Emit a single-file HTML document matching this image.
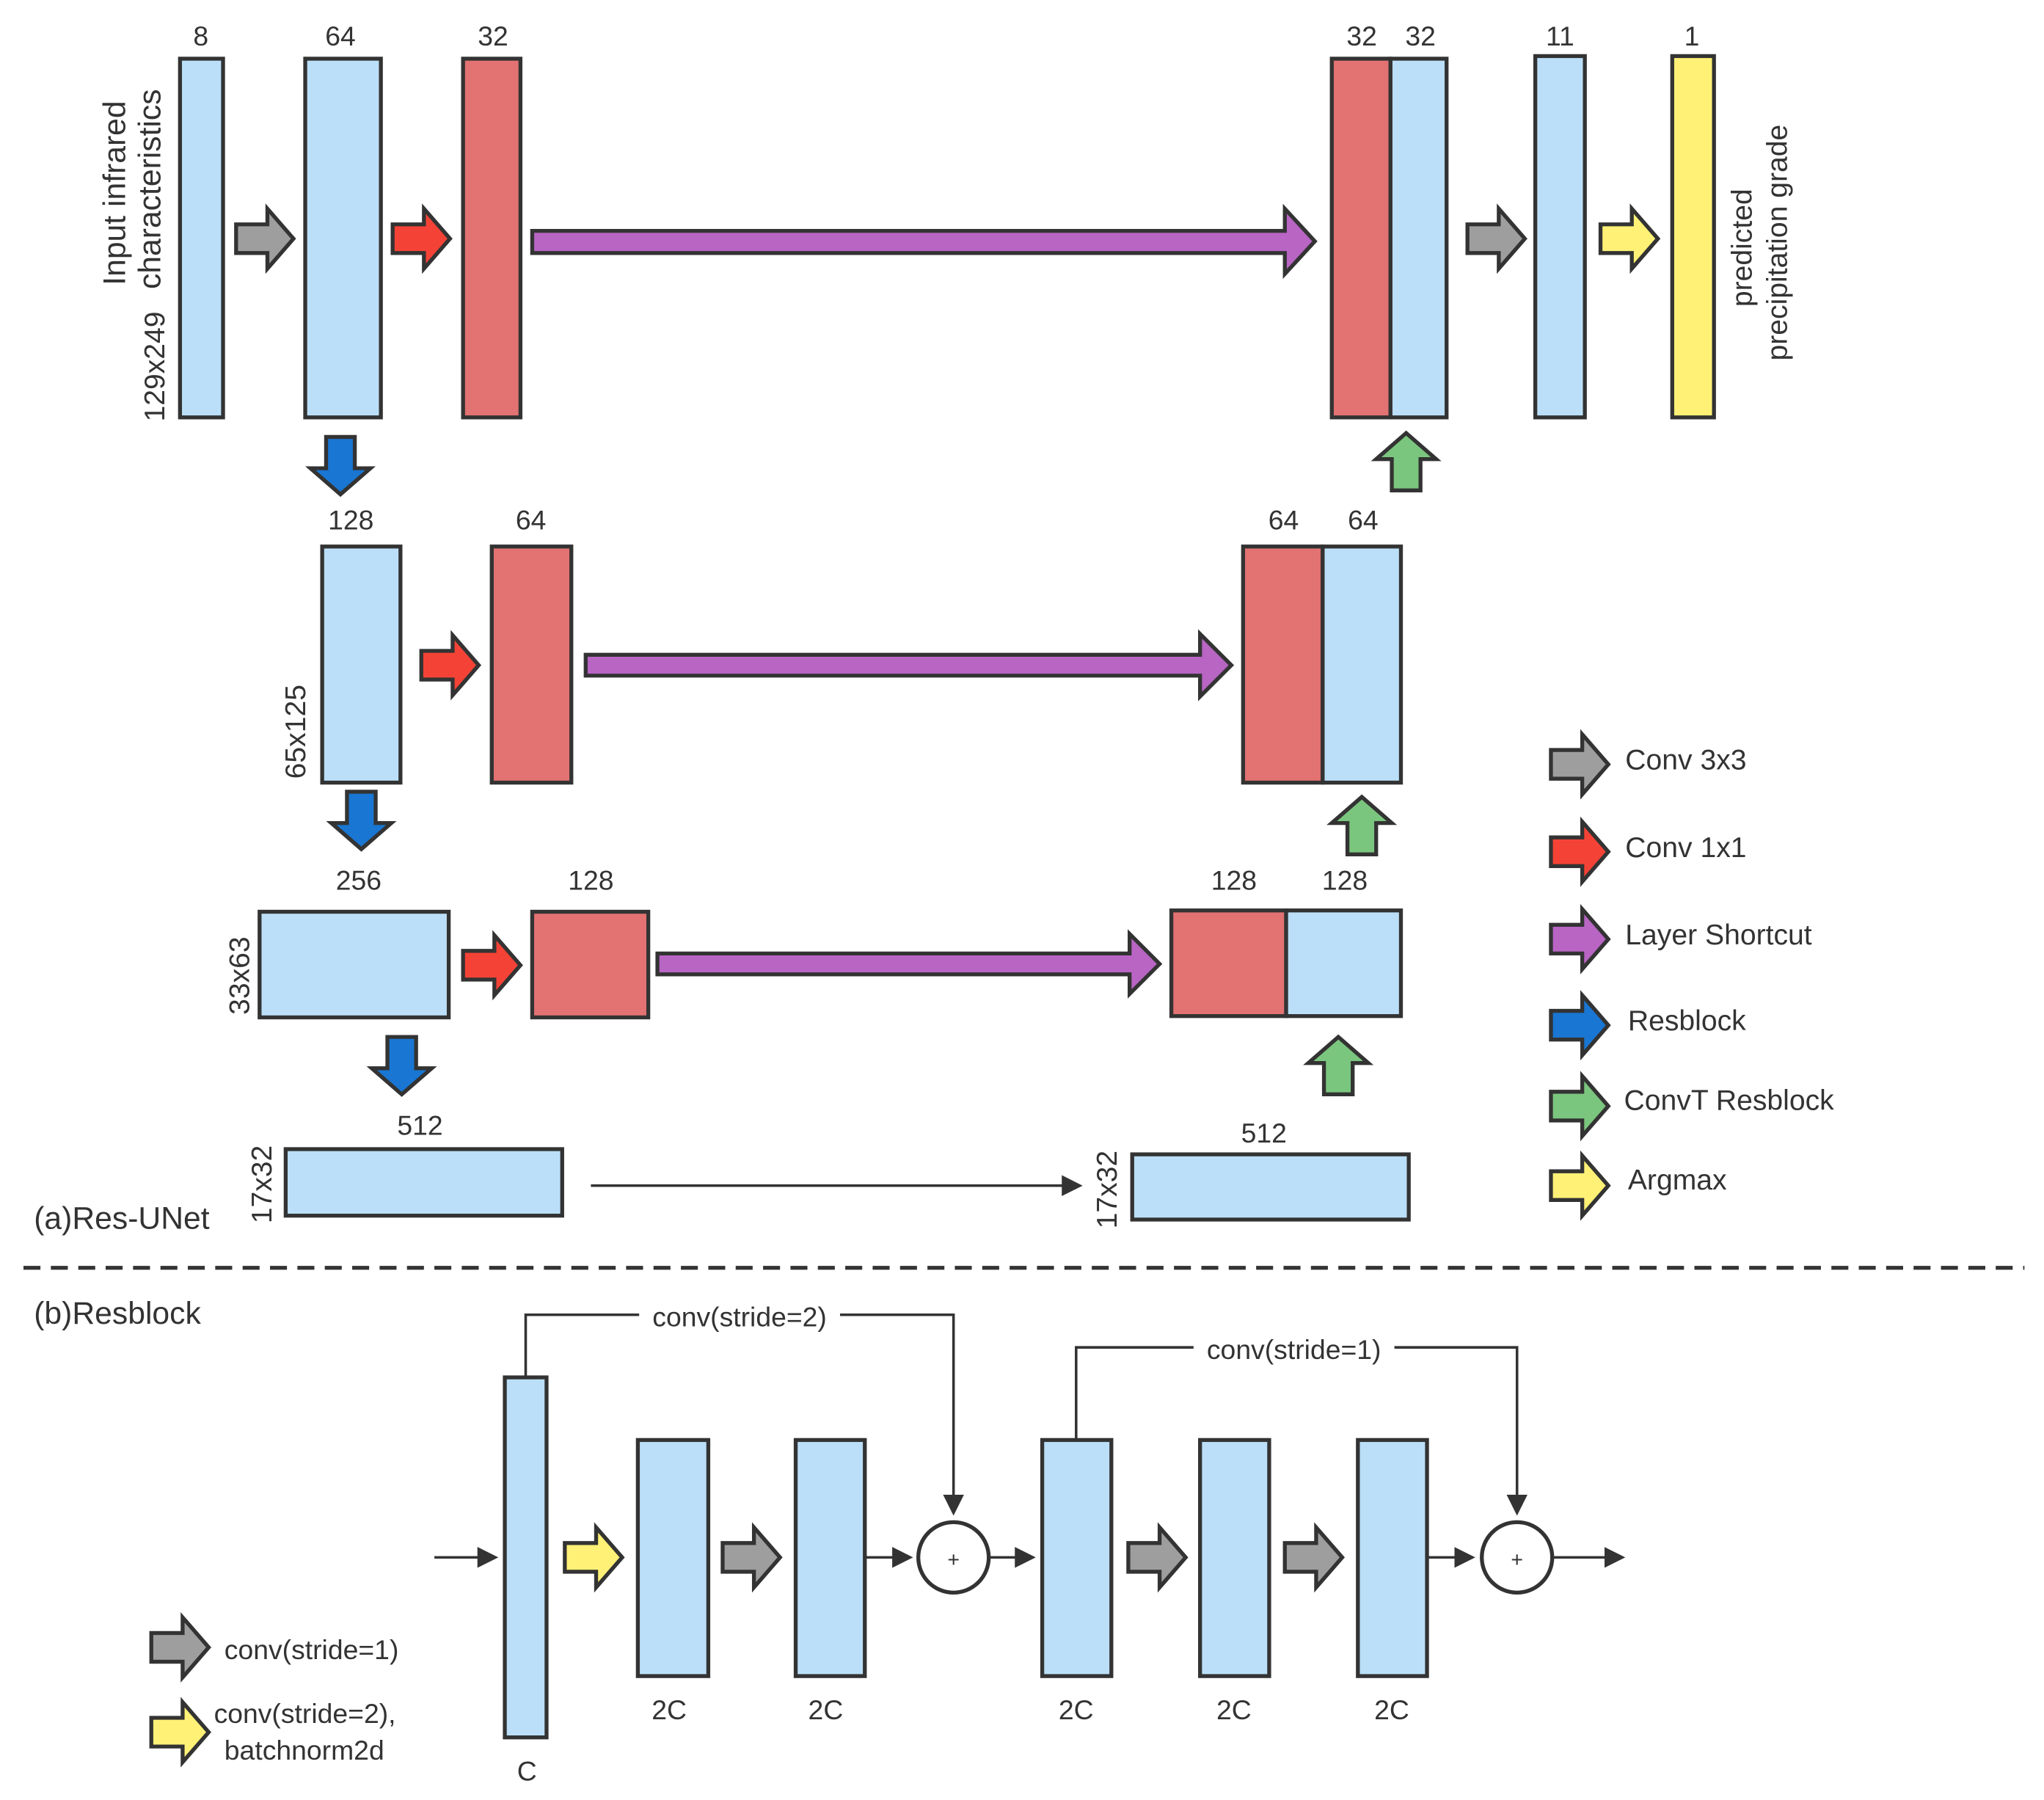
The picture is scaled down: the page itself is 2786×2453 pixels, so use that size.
<!DOCTYPE html>
<html><head><meta charset="utf-8"><style>
html,body{margin:0;padding:0;background:#fff;}
svg{display:block;}
text{font-family:"Liberation Sans","DejaVu Sans",sans-serif;fill:#333;}
</style></head><body>
<svg width="2786" height="2453" viewBox="0 0 1567 1380" preserveAspectRatio="none" xmlns="http://www.w3.org/2000/svg">
<defs>
<polygon id="ar" points="0,-11 24,-11 24,-23 44,0 24,23 24,11 0,11" stroke="#333" stroke-width="3" stroke-linejoin="miter"/>
<marker id="mh" markerWidth="8" markerHeight="8" refX="7" refY="4" orient="auto" markerUnits="strokeWidth"><path d="M0,0 L8,4 L0,8 Z" fill="#333"/></marker>
</defs>
<g stroke="#333" stroke-width="3">
<rect x="138" y="45" width="33" height="275" fill="#bbdff8"/>
<rect x="234" y="45" width="58" height="275" fill="#bbdff8"/>
<rect x="355" y="45" width="44" height="275" fill="#e37272"/>
<rect x="1021" y="45" width="45" height="275" fill="#e37272"/>
<rect x="1066" y="45" width="43" height="275" fill="#bbdff8"/>
<rect x="1177" y="43" width="38" height="277" fill="#bbdff8"/>
<rect x="1282" y="43" width="32" height="277" fill="#fff176"/>
<polygon points="408,177 985,177 985,160 1008,185 985,210 985,194 408,194" fill="#b865c4"/>
<rect x="247" y="419" width="60" height="181" fill="#bbdff8"/>
<rect x="377" y="419" width="61" height="181" fill="#e37272"/>
<rect x="953" y="419" width="61" height="181" fill="#e37272"/>
<rect x="1014" y="419" width="60" height="181" fill="#bbdff8"/>
<polygon points="449,502 920,502 920,486 944,510 920,534 920,518 449,518" fill="#b865c4"/>
<rect x="199" y="699" width="145" height="81" fill="#bbdff8"/>
<rect x="408" y="699" width="89" height="81" fill="#e37272"/>
<rect x="898" y="698" width="88" height="81" fill="#e37272"/>
<rect x="986" y="698" width="88" height="81" fill="#bbdff8"/>
<polygon points="504,731 866,731 866,716 889,739 866,762 866,747 504,747" fill="#b865c4"/>
<rect x="219" y="881" width="212" height="51" fill="#bbdff8"/>
<rect x="868" y="885" width="212" height="50" fill="#bbdff8"/>
</g>
<line x1="453" y1="909" x2="828" y2="909" stroke="#333" stroke-width="2" marker-end="url(#mh)"/>

<use href="#ar" transform="translate(181,183)" fill="#9e9e9e"/>
<use href="#ar" transform="translate(301,183)" fill="#f44336"/>
<use href="#ar" transform="translate(1125,183)" fill="#9e9e9e"/>
<use href="#ar" transform="translate(1227,183)" fill="#fff176"/>
<use href="#ar" transform="translate(261,335) rotate(90)" fill="#1976d2"/>
<use href="#ar" transform="translate(1078,376) rotate(-90)" fill="#7bc67e"/>
<use href="#ar" transform="translate(323,510)" fill="#f44336"/>
<use href="#ar" transform="translate(277,607) rotate(90)" fill="#1976d2"/>
<use href="#ar" transform="translate(1044,655) rotate(-90)" fill="#7bc67e"/>
<use href="#ar" transform="translate(355,740)" fill="#f44336"/>
<use href="#ar" transform="translate(308,795) rotate(90)" fill="#1976d2"/>
<use href="#ar" transform="translate(1026,839) rotate(-90)" fill="#7bc67e"/>
<use href="#ar" transform="translate(1189,586)" fill="#9e9e9e"/>
<use href="#ar" transform="translate(1189,653)" fill="#f44336"/>
<use href="#ar" transform="translate(1189,720)" fill="#b865c4"/>
<use href="#ar" transform="translate(1189,786)" fill="#1976d2"/>
<use href="#ar" transform="translate(1189,848)" fill="#7bc67e"/>
<use href="#ar" transform="translate(1189,909)" fill="#fff176"/>

<g font-size="22">
<text x="1246" y="590">Conv 3x3</text>
<text x="1246" y="657">Conv 1x1</text>
<text x="1246" y="724">Layer Shortcut</text>
<text x="1248" y="790">Resblock</text>
<text x="1245" y="851">ConvT Resblock</text>
<text x="1248" y="912">Argmax</text>
</g>

<g font-size="21" text-anchor="middle">
<text x="154" y="35">8</text><text x="261" y="35">64</text><text x="378" y="35">32</text>
<text x="1044" y="35">32</text><text x="1089" y="35">32</text><text x="1196" y="35">11</text><text x="1297" y="35">1</text>
<text x="269" y="406">128</text><text x="407" y="406">64</text><text x="984" y="406">64</text><text x="1045" y="406">64</text>
<text x="275" y="682">256</text><text x="453" y="682">128</text><text x="946" y="682">128</text><text x="1031" y="682">128</text>
<text x="322" y="870">512</text><text x="969" y="876">512</text>
</g>
<g font-size="22" text-anchor="middle">
<text transform="translate(96,148) rotate(-90)" font-size="24">Input infrared</text>
<text transform="translate(123,145) rotate(-90)" font-size="24">characteristics</text>
<text transform="translate(126,281) rotate(-90)">129x249</text>
<text transform="translate(1343,190) rotate(-90)">predicted</text>
<text transform="translate(1370,186) rotate(-90)">precipitation grade</text>
<text transform="translate(234,561) rotate(-90)">65x125</text>
<text transform="translate(191,748) rotate(-90)">33x63</text>
<text transform="translate(208,908) rotate(-90)">17x32</text>
<text transform="translate(856,912) rotate(-90)">17x32</text>
</g>
<text x="26" y="942" font-size="24">(a)Res-UNet</text>

<line x1="18" y1="972" x2="1552" y2="972" stroke="#333" stroke-width="3" stroke-dasharray="13,8"/>

<text x="26" y="1015" font-size="24">(b)Resblock</text>

<g stroke="#333" stroke-width="3" fill="#bbdff8">
<rect x="387" y="1056" width="32" height="276"/>
<rect x="489" y="1104" width="54" height="181"/>
<rect x="610" y="1104" width="53" height="181"/>
<rect x="799" y="1104" width="53" height="181"/>
<rect x="920" y="1104" width="53" height="181"/>
<rect x="1041" y="1104" width="53" height="181"/>
<circle cx="731" cy="1194" r="27" fill="#fff"/>
<circle cx="1163" cy="1194" r="27" fill="#fff"/>
</g>
<g stroke="#333" stroke-width="2" fill="none">
<polyline points="403,1056 403,1008 731,1008 731,1160" marker-end="url(#mh)"/>
<polyline points="825,1104 825,1033 1163,1033 1163,1160" marker-end="url(#mh)"/>
<line x1="333" y1="1194" x2="380" y2="1194" marker-end="url(#mh)"/>
<line x1="663" y1="1194" x2="698" y2="1194" marker-end="url(#mh)"/>
<line x1="758" y1="1194" x2="792" y2="1194" marker-end="url(#mh)"/>
<line x1="1094" y1="1194" x2="1129" y2="1194" marker-end="url(#mh)"/>
<line x1="1190" y1="1194" x2="1244" y2="1194" marker-end="url(#mh)"/>
</g>
<rect x="490" y="996" width="154" height="26" fill="#fff"/>
<rect x="915" y="1021" width="154" height="26" fill="#fff"/>
<g font-size="21" text-anchor="middle">
<text x="567" y="1017">conv(stride=2)</text>
<text x="992" y="1042">conv(stride=1)</text>
<text x="731" y="1201" font-size="16">+</text>
<text x="1163" y="1201" font-size="16">+</text>
<text x="513" y="1318">2C</text><text x="633" y="1318">2C</text><text x="825" y="1318">2C</text><text x="946" y="1318">2C</text><text x="1067" y="1318">2C</text>
<text x="404" y="1365">C</text>
</g>
<use href="#ar" transform="translate(433,1194)" fill="#fff176"/>
<use href="#ar" transform="translate(554,1194)" fill="#9e9e9e"/>
<use href="#ar" transform="translate(865,1194)" fill="#9e9e9e"/>
<use href="#ar" transform="translate(985,1194)" fill="#9e9e9e"/>
<use href="#ar" transform="translate(116,1263)" fill="#9e9e9e"/>
<use href="#ar" transform="translate(116,1328)" fill="#fff176"/>
<g font-size="21">
<text x="172" y="1272">conv(stride=1)</text>
<text x="164" y="1321">conv(stride=2),</text>
<text x="172" y="1349">batchnorm2d</text>
</g>
</svg>
</body></html>
